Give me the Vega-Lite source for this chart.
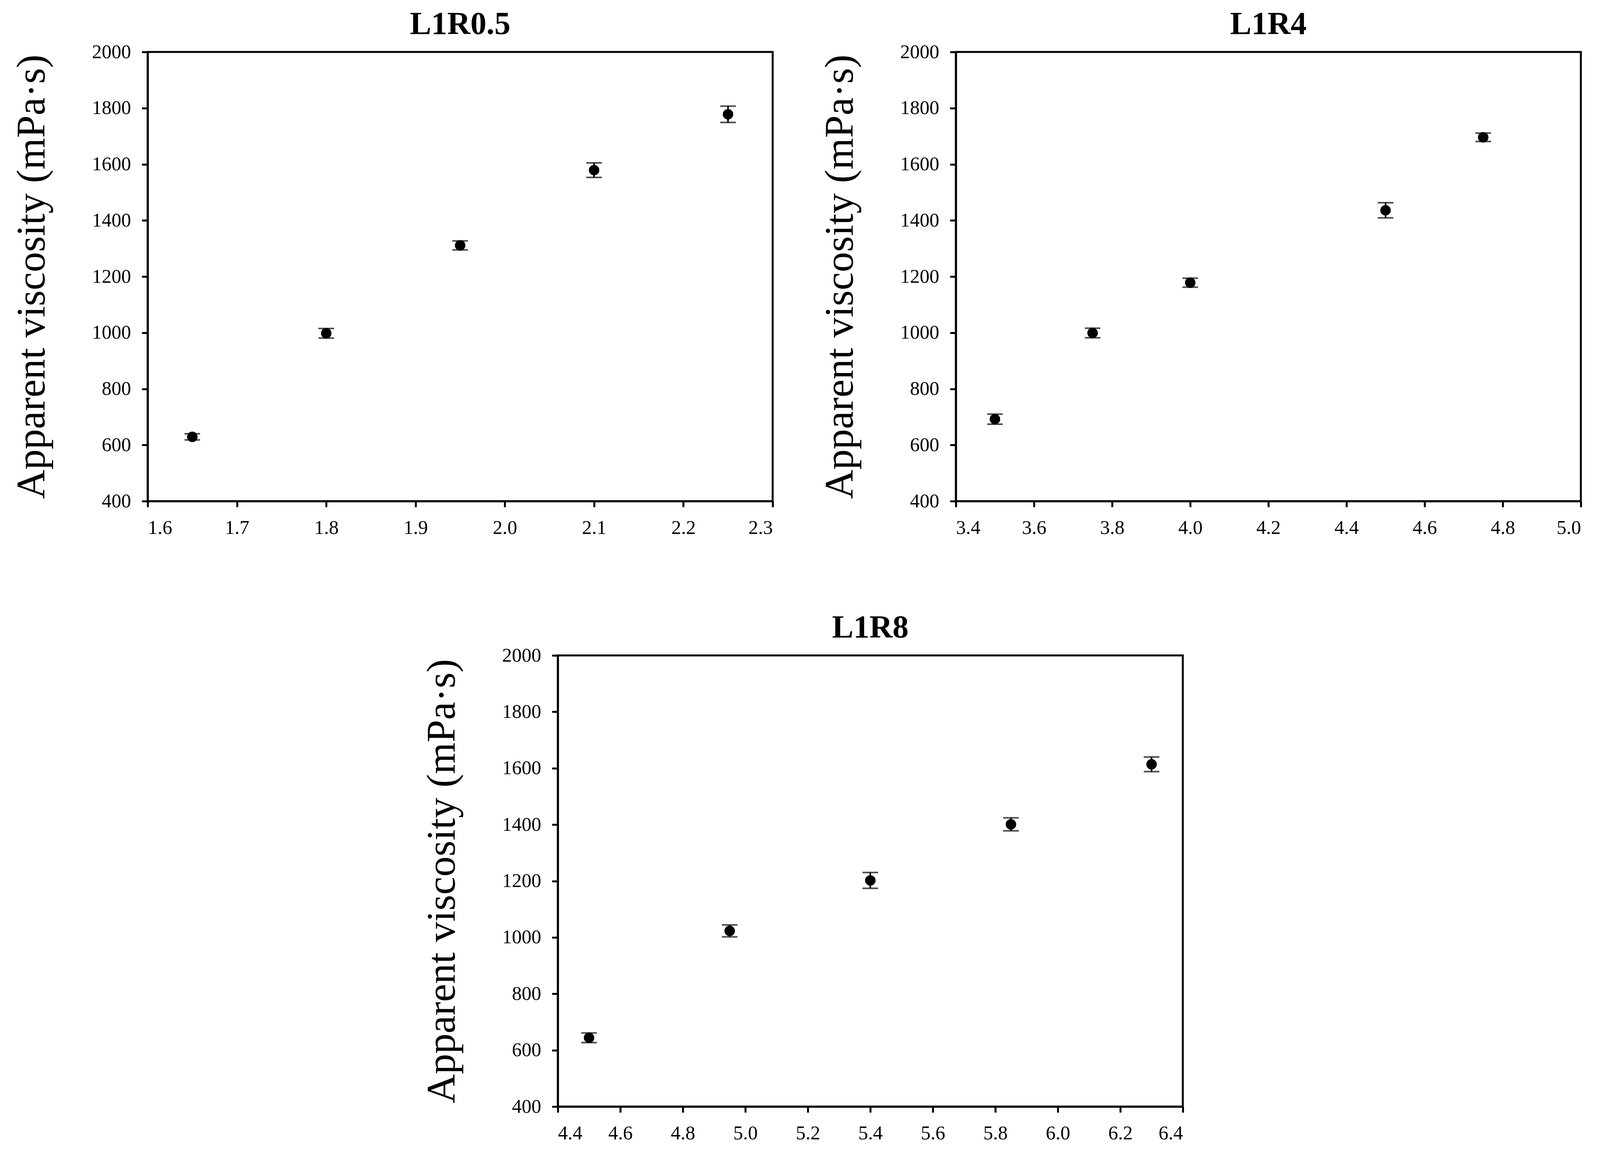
{
  "$schema": "https://vega.github.io/schema/vega-lite/v6.json",
  "background": "white",
  "padding": {"top": 18, "left": 27, "right": 20, "bottom": 20},
  "datasets": {
    "p1": [
      {"x": 1.65, "v": 629, "err": 11},
      {"x": 1.8, "v": 998, "err": 17},
      {"x": 1.95, "v": 1311, "err": 16},
      {"x": 2.1, "v": 1579, "err": 26},
      {"x": 2.25, "v": 1778, "err": 29}
    ],
    "p2": [
      {"x": 3.5, "v": 692, "err": 18},
      {"x": 3.75, "v": 999, "err": 17},
      {"x": 4.0, "v": 1178, "err": 16},
      {"x": 4.5, "v": 1436, "err": 27},
      {"x": 4.75, "v": 1696, "err": 15}
    ],
    "p3": [
      {"x": 4.5, "v": 644, "err": 17},
      {"x": 4.95, "v": 1023, "err": 21},
      {"x": 5.4, "v": 1202, "err": 28},
      {"x": 5.85, "v": 1401, "err": 23},
      {"x": 6.3, "v": 1614, "err": 26}
    ]
  },
  "vconcat": [
    {
      "hconcat": [
        {
          "title": "L1R0.5",
          "width": 1600,
          "height": 1150,
          "data": {"name": "p1"},
          "encoding": {
            "x": {"field": "x", "type": "quantitative", "title": null,
              "scale": {"domain": [1.6, 2.3], "nice": false, "zero": false},
              "axis": {"values": [1.6, 1.7, 1.8, 1.9, 2.0, 2.1, 2.2, 2.3], "format": ".1f"}},
            "y": {"field": "v", "type": "quantitative", "title": "Apparent viscosity (mPa·s)",
              "scale": {"domain": [400, 2000], "nice": false},
              "axis": {"values": [400, 600, 800, 1000, 1200, 1400, 1600, 1800, 2000], "format": "d"}}
          },
          "layer": [
            {"mark": {"type": "errorbar", "thickness": 4, "color": "black", "ticks": {"size": 40, "thickness": 4, "color": "black"}},
             "encoding": {"yError": {"field": "err"}}},
            {"mark": {"type": "circle", "size": 720, "color": "black", "opacity": 1}}
          ]
        },
        {
          "title": "L1R4",
          "width": 1600,
          "height": 1150,
          "data": {"name": "p2"},
          "encoding": {
            "x": {"field": "x", "type": "quantitative", "title": null,
              "scale": {"domain": [3.4, 5.0], "nice": false, "zero": false},
              "axis": {"values": [3.4, 3.6, 3.8, 4.0, 4.2, 4.4, 4.6, 4.8, 5.0], "format": ".1f"}},
            "y": {"field": "v", "type": "quantitative", "title": "Apparent viscosity (mPa·s)",
              "scale": {"domain": [400, 2000], "nice": false},
              "axis": {"values": [400, 600, 800, 1000, 1200, 1400, 1600, 1800, 2000], "format": "d"}}
          },
          "layer": [
            {"mark": {"type": "errorbar", "thickness": 4, "color": "black", "ticks": {"size": 40, "thickness": 4, "color": "black"}},
             "encoding": {"yError": {"field": "err"}}},
            {"mark": {"type": "circle", "size": 720, "color": "black", "opacity": 1}}
          ]
        }
      ],
      "spacing": 113
    },
    {
      "hconcat": [
        {
          "width": 699,
          "height": 10,
          "data": {"values": []},
          "mark": "point",
          "view": {"stroke": null}
        },
        {
          "title": "L1R8",
          "width": 1600,
          "height": 1155,
          "data": {"name": "p3"},
          "encoding": {
            "x": {"field": "x", "type": "quantitative", "title": null,
              "scale": {"domain": [4.4, 6.4], "nice": false, "zero": false},
              "axis": {"values": [4.4, 4.6, 4.8, 5.0, 5.2, 5.4, 5.6, 5.8, 6.0, 6.2, 6.4], "format": ".1f"}},
            "y": {"field": "v", "type": "quantitative", "title": "Apparent viscosity (mPa·s)",
              "scale": {"domain": [400, 2000], "nice": false},
              "axis": {"values": [400, 600, 800, 1000, 1200, 1400, 1600, 1800, 2000], "format": "d"}}
          },
          "layer": [
            {"mark": {"type": "errorbar", "thickness": 4, "color": "black", "ticks": {"size": 40, "thickness": 4, "color": "black"}},
             "encoding": {"yError": {"field": "err"}}},
            {"mark": {"type": "circle", "size": 720, "color": "black", "opacity": 1}}
          ]
        }
      ],
      "spacing": 0
    }
  ],
  "spacing": 184,
  "config": {
    "view": {"stroke": "black", "strokeWidth": 5},
    "axis": {
      "grid": false,
      "domainColor": "black",
      "domainWidth": 5,
      "tickColor": "black",
      "tickWidth": 5,
      "tickSize": 15,
      "labelFont": "Liberation Serif",
      "labelFontSize": 50,
      "labelColor": "black",
      "labelPadding": 28,
      "titleFont": "Liberation Serif",
      "titleFontSize": 104,
      "titleFontWeight": "normal",
      "titleColor": "black",
      "titlePadding": 100
    },
    "title": {
      "font": "Liberation Serif",
      "fontSize": 82,
      "fontWeight": "bold",
      "color": "black",
      "offset": 4
    }
  }
}
